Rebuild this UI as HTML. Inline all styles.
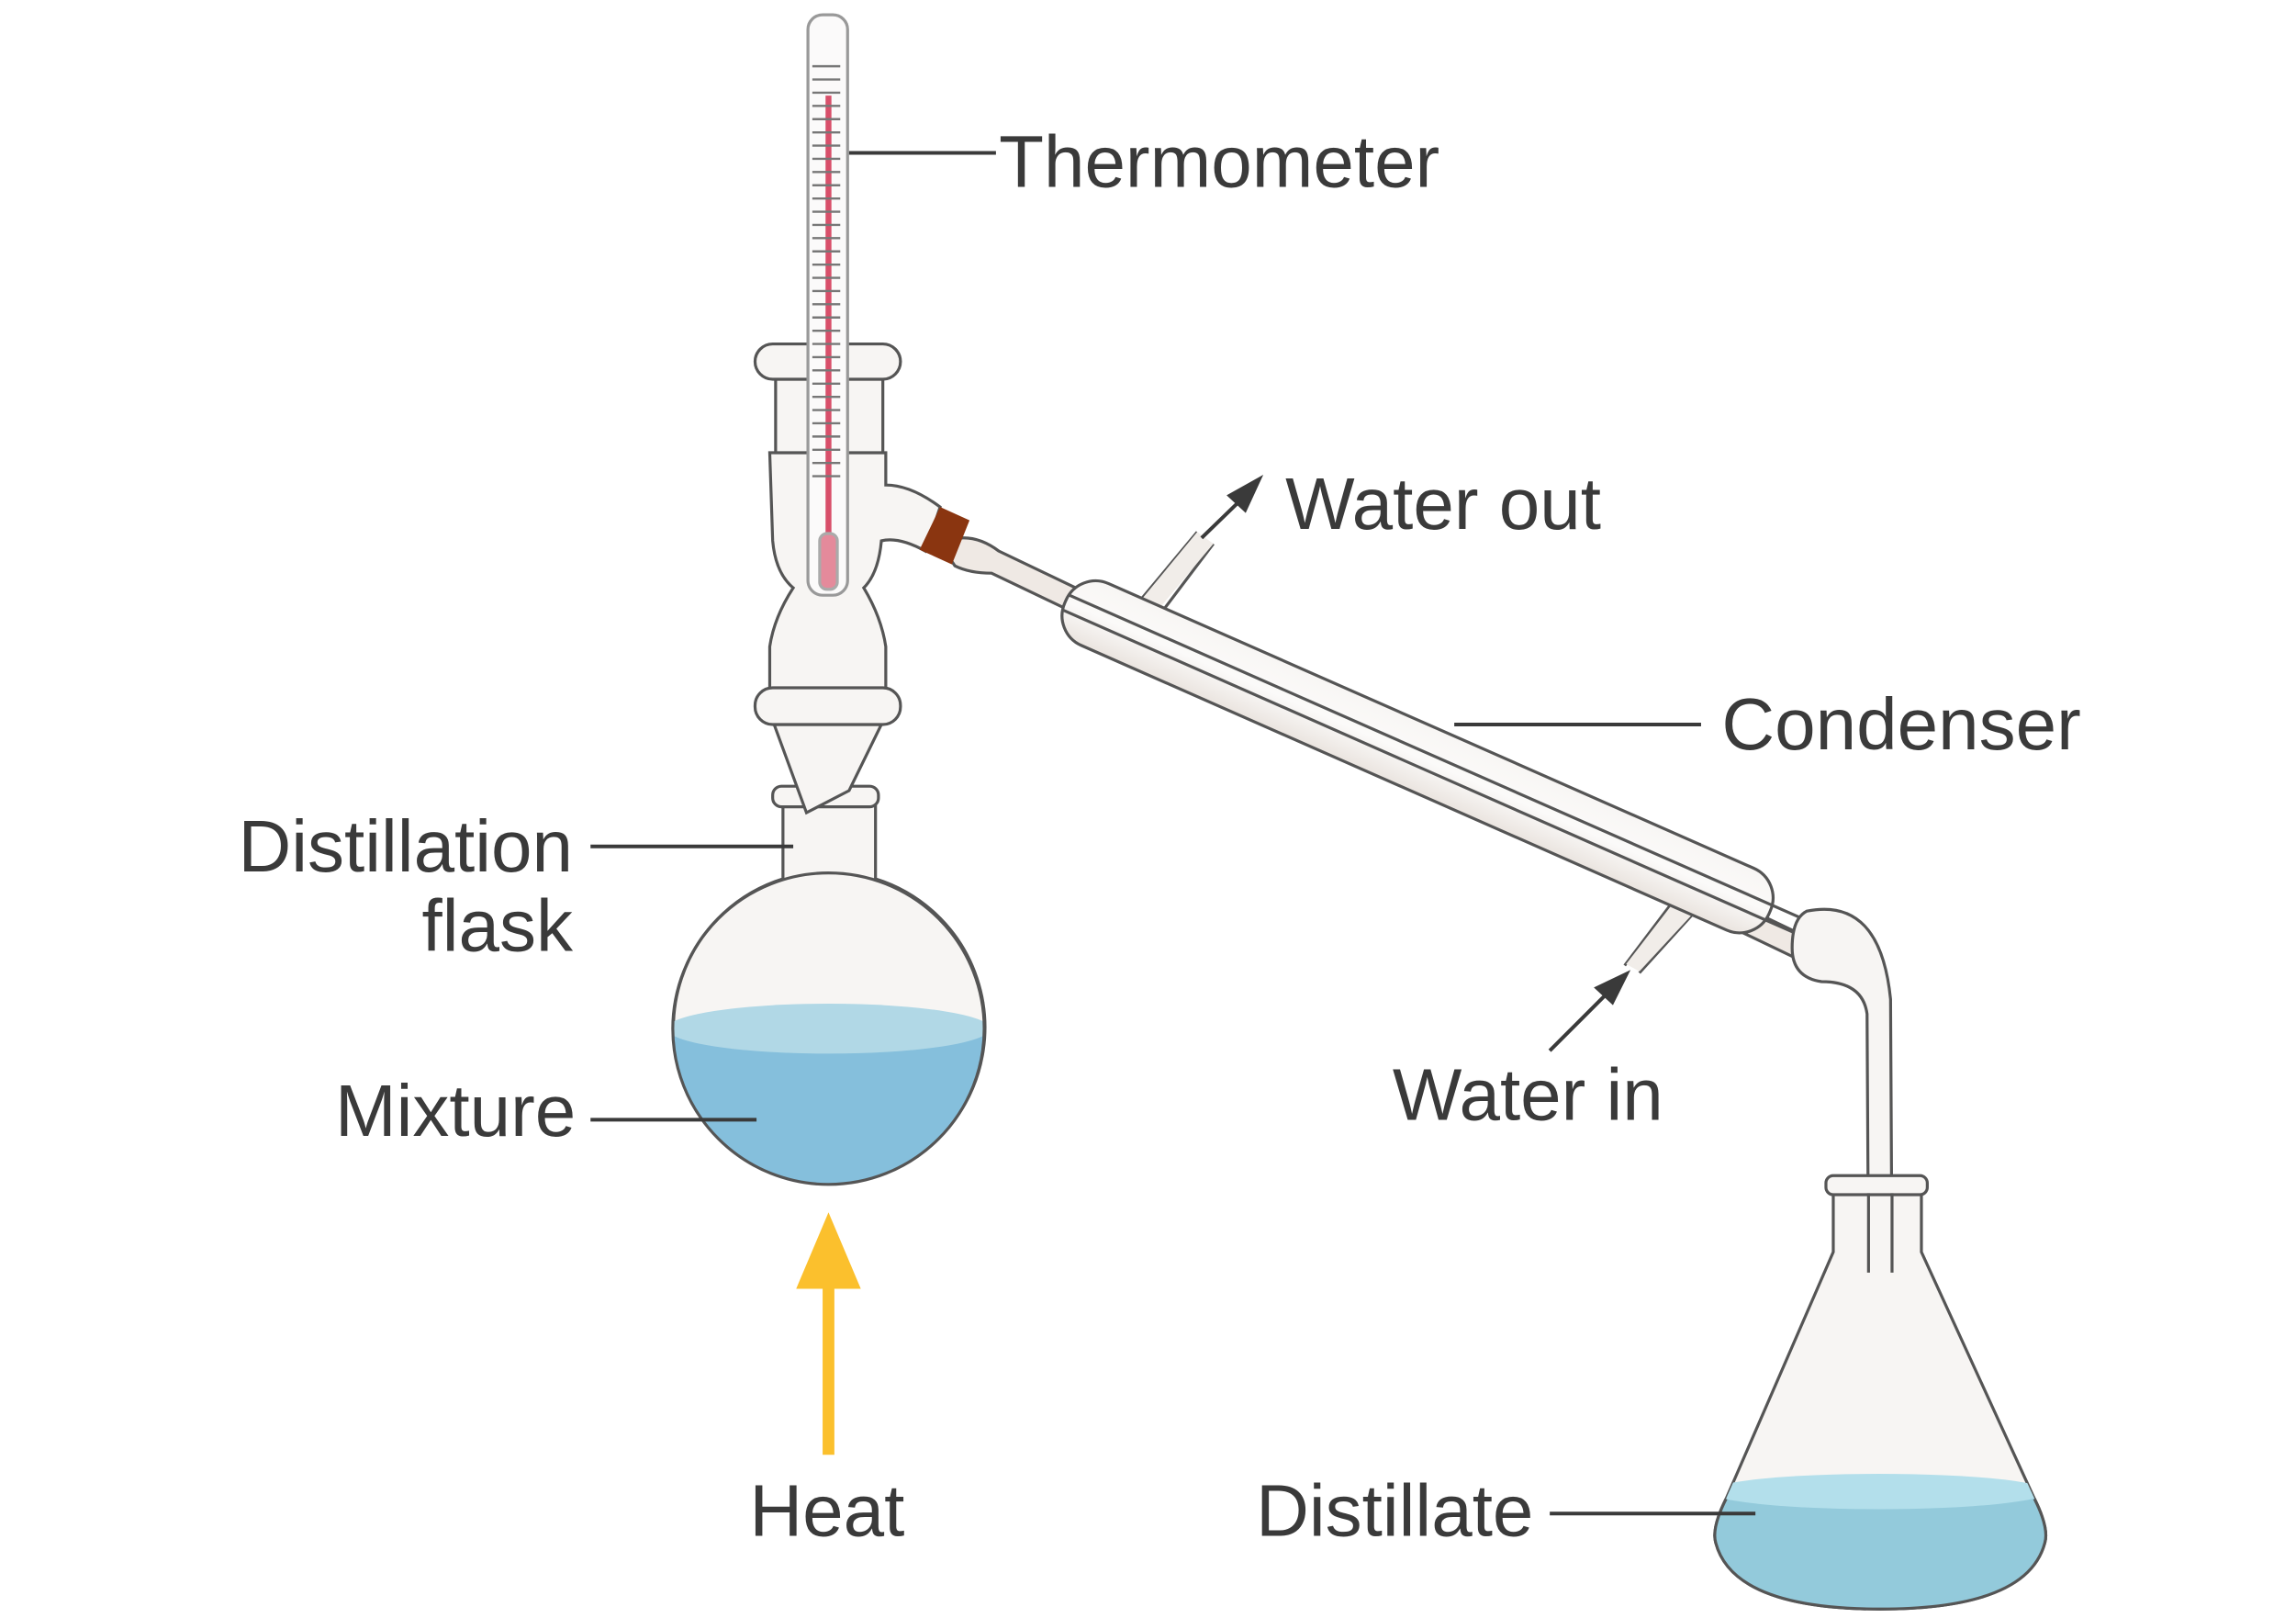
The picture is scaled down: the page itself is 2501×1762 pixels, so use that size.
<!DOCTYPE html>
<html><head><meta charset="utf-8"><style>
html,body{margin:0;padding:0;background:#fff}
svg{display:block}
text{font-family:"Liberation Sans",sans-serif;fill:#3a3a3a;font-size:50px}
</style></head><body>
<svg width="2501" height="1762" viewBox="0 0 1563 1101" xmlns="http://www.w3.org/2000/svg">
<defs>
<linearGradient id="jg" x1="0" y1="0" x2="0" y2="1"><stop offset="0" stop-color="#f8f6f4"/><stop offset="0.5" stop-color="#fbfaf9"/><stop offset="1" stop-color="#eae4df"/></linearGradient>
<clipPath id="ec"><path d="M1248,812 L1248,852 L1175,1020 Q1165,1040 1168,1050 Q1180,1095 1280,1095 Q1380,1095 1392,1050 Q1395,1040 1385,1020 L1308,852 L1308,812 Z"/></clipPath>
<clipPath id="rc"><circle cx="564" cy="700" r="106"/></clipPath>
</defs>
<g stroke="#555" stroke-width="2" fill="#f7f5f3">
<!-- flask -->
<path d="M533,545 L533,598 A106,106 0 1 0 596,598 L596,545 Z"/>
<rect x="526" y="535" width="72" height="14" rx="6"/>
<g clip-path="url(#rc)" stroke="none">
<rect x="450" y="700" width="230" height="120" fill="#85bfdc"/>
<ellipse cx="564" cy="700" rx="110" ry="17" fill="#b1d8e6"/>
</g>
<circle cx="564" cy="700" r="106" fill="none"/>
<!-- cone -->
<path d="M527,493 L549,553 L578,538 L600,493 Z"/>
<!-- still head -->
<path d="M524,308 L603,308 L603,330 Q620,330 640,345 L630,375 Q612,365 600,368 Q598,390 588,400 Q600,420 603,440 L603,470 L524,470 L524,440 Q527,420 540,400 Q528,390 526,368 Z"/>
<rect x="528" y="258" width="73" height="50"/>
<rect x="514" y="234" width="99" height="24" rx="12"/>
<rect x="514" y="468" width="99" height="25" rx="12"/>
<!-- thermometer -->
<rect x="550" y="10" width="27" height="395" rx="10" fill="#fbfafa" stroke="#999"/>
<line x1="564" y1="65" x2="564" y2="365" stroke="#d84f6a" stroke-width="4"/>
<rect x="558" y="363" width="12" height="38" rx="5" fill="#e48a9b" stroke="#aaa"/>
<!-- condenser inner tube -->
<path d="M640,370 Q660,360 680,375 L1262,653 L1256,668 L675,390 Q660,390 650,385 Z" fill="#efe9e4"/>
<!-- water stubs -->
<path d="M775,410 L815,362 M792,415 L826,370" fill="none"/>
<path d="M777,408 L815,362 L826,370 L790,413 Z" fill="#f1ede9" stroke="none"/>
<path d="M1140,612 L1106,657 M1156,618 L1116,662" fill="none"/>
<path d="M1141,612 L1107,656 L1116,661 L1155,619 Z" fill="#f1ede9" stroke="none"/>
<!-- jacket -->
<g transform="translate(965,515) rotate(23.8)">
<rect x="-262" y="-23" width="524" height="46" rx="22" fill="url(#jg)"/>
<line x1="-262" y1="-5" x2="300" y2="-5"/>
<line x1="-262" y1="6" x2="300" y2="6"/>
</g>
<!-- cork -->
<polygon points="640,345 660,354 648,384 626,374" fill="#8a3510" stroke="none"/>
<!-- adapter -->
<path d="M1230,620 Q1280,610 1287,680 L1288,865 L1272,865 L1271,690 Q1268,668 1240,668 Q1220,665 1220,645 Q1220,625 1230,620 Z"/>
<!-- erlenmeyer -->
<path d="M1248,812 L1248,852 L1175,1020 Q1165,1040 1168,1050 Q1180,1095 1280,1095 Q1380,1095 1392,1050 Q1395,1040 1385,1020 L1308,852 L1308,812 Z"/>
<g clip-path="url(#ec)" stroke="none">
<rect x="1160" y="1015" width="240" height="90" fill="#93cadb"/>
<ellipse cx="1279" cy="1015" rx="115" ry="12" fill="#b3dfeb"/>
</g>
<path d="M1175,1020 Q1165,1040 1168,1050 Q1180,1095 1280,1095 Q1380,1095 1392,1050 Q1395,1040 1385,1020" fill="none"/>
<rect x="1243" y="800" width="69" height="13" rx="5"/>
<line x1="1272" y1="812" x2="1272" y2="866"/><line x1="1288" y1="812" x2="1288" y2="866"/>
</g>
<!-- ticks -->
<g stroke="#777" stroke-width="1.5">
<path d="M553,45h19M553,54h19M553,63h19M553,72h19M553,81h19M553,90h19M553,99h19M553,108h19M553,117h19M553,126h19M553,135h19M553,144h19M553,153h19M553,162h19M553,171h19M553,180h19M553,189h19M553,198h19M553,207h19M553,216h19M553,225h19M553,234h19M553,243h19M553,252h19M553,261h19M553,270h19M553,279h19M553,288h19M553,297h19M553,306h19M553,315h19M553,324h19"/>
</g>
<!-- connectors -->
<g stroke="#3a3a3a" stroke-width="2.5" fill="#3a3a3a">
<line x1="578" y1="104" x2="678" y2="104"/>
<line x1="990" y1="493" x2="1158" y2="493"/>
<line x1="402" y1="576" x2="540" y2="576"/>
<line x1="402" y1="762" x2="515" y2="762"/>
<line x1="1055" y1="1030" x2="1195" y2="1030"/>
<line x1="818" y1="366" x2="850" y2="335"/>
<polygon points="860,323 835,337 848,349" stroke="none"/>
<line x1="1055" y1="715" x2="1098" y2="672"/>
<polygon points="1110,660 1085,672 1098,684" stroke="none"/>
</g>
<!-- heat -->
<rect x="560" y="870" width="8" height="120" fill="#fbc02d"/>
<polygon points="564,825 542,877 586,877" fill="#fbc02d"/>
<!-- labels -->
<text x="680" y="127">Thermometer</text>
<text x="875" y="360">Water out</text>
<text x="1172" y="510">Condenser</text>
<text x="948" y="762">Water in</text>
<text x="390" y="593" text-anchor="end">Distillation</text>
<text x="390" y="647" text-anchor="end">flask</text>
<text x="392" y="773" text-anchor="end">Mixture</text>
<text x="563" y="1045" text-anchor="middle">Heat</text>
<text x="855" y="1045">Distillate</text>
</svg>
</body></html>
